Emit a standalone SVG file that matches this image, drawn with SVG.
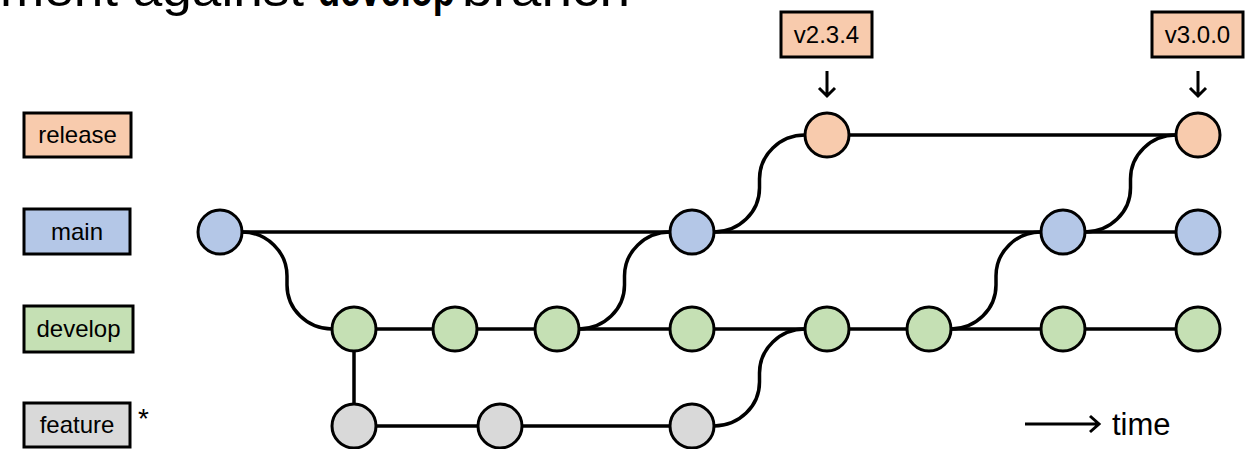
<svg xmlns="http://www.w3.org/2000/svg" width="1258" height="449" viewBox="0 0 1258 449">
<style>
  text { font-family: "Liberation Sans", Arial, sans-serif; fill: #000; }
  .lbl { font-size: 24px; text-anchor: middle; }
  .box { stroke: #000; stroke-width: 3; }
  .c { stroke: #000; stroke-width: 3; }
  .rel { fill: #F8CBAD; }
  .mai { fill: #B4C7E7; }
  .dev { fill: #C5E0B4; }
  .fea { fill: #D9D9D9; }
  .edge { fill: none; stroke: #000; stroke-width: 3.5; }
  .arr { fill: none; stroke: #000; stroke-width: 3; }
</style>
<rect width="1258" height="449" fill="#fff"/>

<g id="title">
  <text y="6" font-size="48"><tspan x="0" textLength="304" lengthAdjust="spacingAndGlyphs">ment against</tspan><tspan x="318" font-weight="bold" textLength="137" lengthAdjust="spacingAndGlyphs">develop</tspan><tspan x="462" textLength="168" lengthAdjust="spacingAndGlyphs">branch</tspan></text>
</g>

<g id="legend">
  <g id="legend-release"><rect class="box rel" x="24" y="113" width="107" height="44"/><text class="lbl" x="77.5" y="143">release</text></g>
  <g id="legend-main"><rect class="box mai" x="24" y="209" width="106" height="45"/><text class="lbl" x="77" y="240">main</text></g>
  <g id="legend-develop"><rect class="box dev" x="24" y="306" width="109" height="46"/><text class="lbl" x="78.5" y="337">develop</text></g>
  <g id="legend-feature"><rect class="box fea" x="24" y="403" width="106" height="44"/><text class="lbl" x="77" y="433">feature</text><text x="138" y="428" font-size="28">*</text></g>
</g>

<g id="tags">
  <g id="tag-v234"><rect class="box rel" x="781" y="12" width="91" height="45"/><text class="lbl" x="826.5" y="43">v2.3.4</text>
    <path class="arr" d="M827 71 V96 M819 88 L827 96 L835 88"/></g>
  <g id="tag-v300"><rect class="box rel" x="1152" y="12" width="91" height="45"/><text class="lbl" x="1197.5" y="43">v3.0.0</text>
    <path class="arr" d="M1198 71 V96 M1190 88 L1198 96 L1206 88"/></g>
</g>

<g id="connectors">
  <path class="edge" d="M220 232 H1198"/>
  <path class="edge" d="M827 135 H1198"/>
  <path class="edge" d="M354 329 H1198"/>
  <path class="edge" d="M354 426 H692"/>
  <path class="edge" d="M354 329 V426"/>
  <path class="edge" d="M242 232 A45 44 0 0 1 287 276 L287 285 A45 44 0 0 0 332 329"/>
  <path class="edge" d="M579 329 A45.5 44 0 0 0 624.5 285 L624.5 276 A45.5 44 0 0 1 670 232"/>
  <path class="edge" d="M714 232 A45.5 44 0 0 0 759.5 188 L759.5 179 A45.5 44 0 0 1 805 135"/>
  <path class="edge" d="M714 426 A45.5 44 0 0 0 759.5 382 L759.5 373 A45.5 44 0 0 1 805 329"/>
  <path class="edge" d="M951 329 A45 44 0 0 0 996 285 L996 276 A45 44 0 0 1 1041 232"/>
  <path class="edge" d="M1085 232 A45.5 44 0 0 0 1130.5 188 L1130.5 179 A45.5 44 0 0 1 1176 135"/>
</g>

<g id="nodes">
  <g id="r1"><circle class="c rel" cx="827" cy="135" r="22"/></g>
  <g id="r2"><circle class="c rel" cx="1198" cy="135" r="22"/></g>
  <g id="m1"><circle class="c mai" cx="220" cy="232" r="22"/></g>
  <g id="m2"><circle class="c mai" cx="692" cy="232" r="22"/></g>
  <g id="m3"><circle class="c mai" cx="1063" cy="232" r="22"/></g>
  <g id="m4"><circle class="c mai" cx="1198" cy="232" r="22"/></g>
  <g id="d1"><circle class="c dev" cx="354" cy="329" r="22"/></g>
  <g id="d2"><circle class="c dev" cx="455" cy="329" r="22"/></g>
  <g id="d3"><circle class="c dev" cx="557" cy="329" r="22"/></g>
  <g id="d4"><circle class="c dev" cx="692" cy="329" r="22"/></g>
  <g id="d5"><circle class="c dev" cx="827" cy="329" r="22"/></g>
  <g id="d6"><circle class="c dev" cx="929" cy="329" r="22"/></g>
  <g id="d7"><circle class="c dev" cx="1063" cy="329" r="22"/></g>
  <g id="d8"><circle class="c dev" cx="1198" cy="329" r="22"/></g>
  <g id="f1"><circle class="c fea" cx="354" cy="426" r="22"/></g>
  <g id="f2"><circle class="c fea" cx="500" cy="426" r="22"/></g>
  <g id="f3"><circle class="c fea" cx="692" cy="426" r="22"/></g>
</g>

<g id="time">
  <path class="arr" d="M1025 424 H1099 M1090 416 L1099 424 L1090 432"/>
  <text x="1112" y="435" font-size="31">time</text>
</g>
</svg>
